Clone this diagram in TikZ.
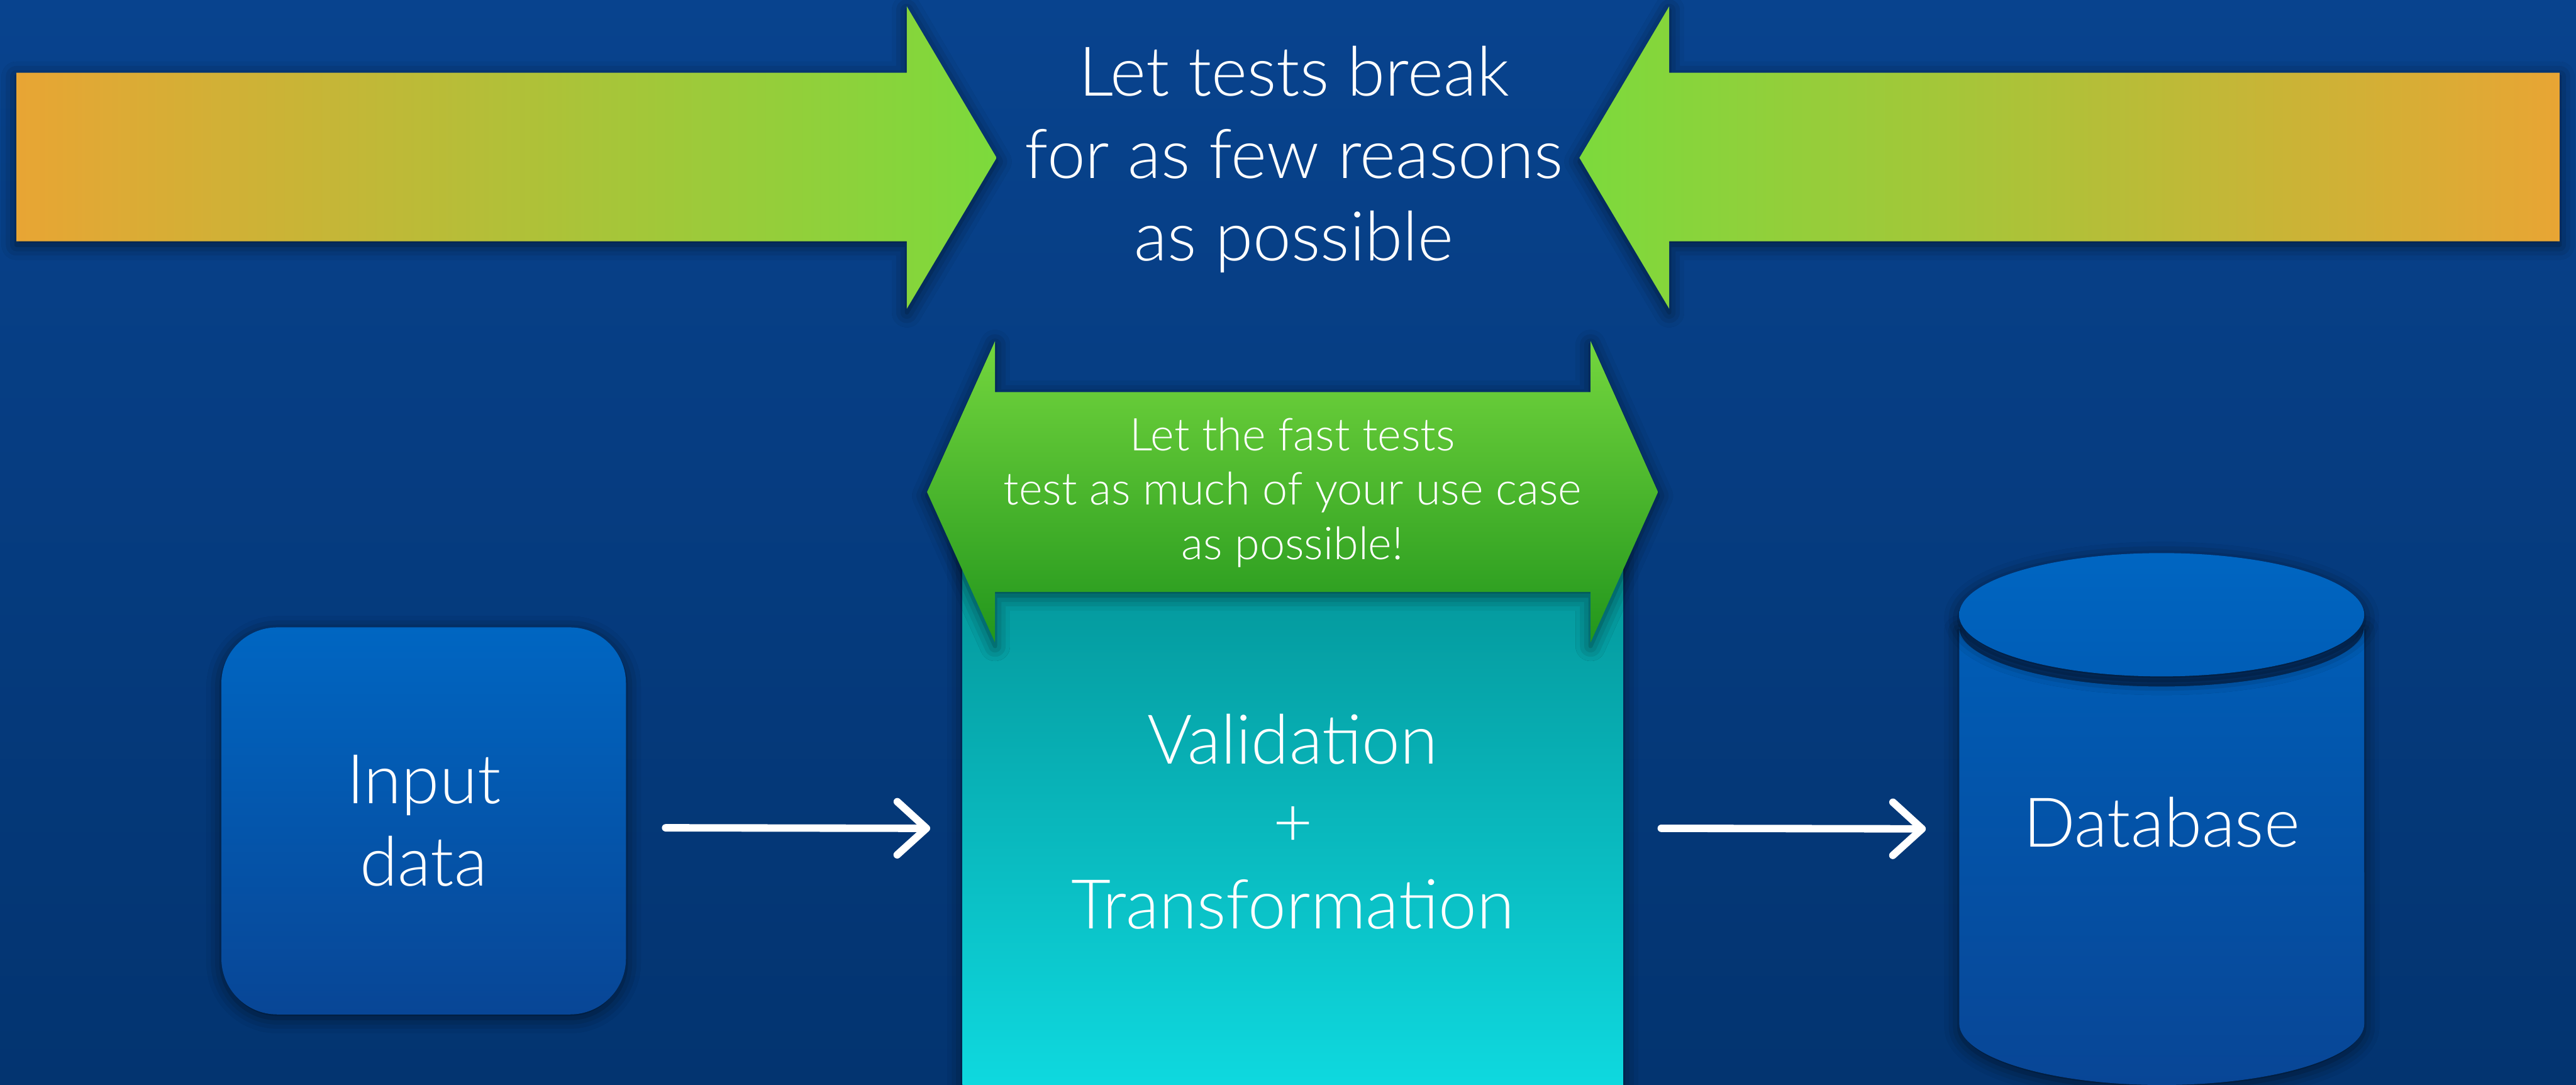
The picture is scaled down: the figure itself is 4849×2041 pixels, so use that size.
\documentclass[tikz,border=0pt]{standalone}
\usepackage{fontspec}
\setmainfont{Lato Light}
\usetikzlibrary{arrows.meta, shadows.blur}

\definecolor{bgtop}{RGB}{8,67,142}
\definecolor{bgbot}{RGB}{3,52,112}
\definecolor{orng}{RGB}{232,165,52}
\definecolor{lgreen}{RGB}{124,218,60}
\definecolor{gtop}{RGB}{116,214,62}
\definecolor{gbot}{RGB}{34,150,28}
\definecolor{tealtop}{RGB}{3,146,150}
\definecolor{tealbot}{RGB}{15,220,226}
\definecolor{bluetop}{RGB}{0,102,194}
\definecolor{bluemid}{RGB}{0,93,182}
\definecolor{bluebot}{RGB}{8,70,150}

\begin{document}
\begin{tikzpicture}[x=0.01cm, y=-0.01cm,
	soft shadow/.style={blur shadow={shadow xshift=0pt, shadow yshift=-2pt, shadow blur radius=8pt, shadow opacity=60}},
	big text/.style={text=white, align=center, font=\fontsize{36.7}{44.1}\selectfont},
	small text/.style={text=white, align=center, font=\fontsize{24.2}{29}\selectfont},
	chalk/.style={draw=white, line width=0.14cm, line cap=round, -{Straight Barb[length=0.55cm, width=1.0cm, round]}}]

	% backdrop
	\shade[top color=bgtop, bottom color=bgbot] (0,0) rectangle (4849,2041);
	\useasboundingbox (0,0) rectangle (4849,2041);

	% the two arrows pushing in from the sides
	\shade[soft shadow, left color=orng, right color=lgreen]
		(31,137) -- (1707,137) -- (1707,12) -- (1876,297) -- (1707,581) -- (1707,454) -- (31,454) -- cycle;
	\shade[soft shadow, left color=lgreen, right color=orng]
		(4818,137) -- (3142,137) -- (3142,12) -- (2973,297) -- (3142,581) -- (3142,454) -- (4818,454) -- cycle;
	\node[big text] (goal) at (2436,300) {Let tests break\\for as few reasons\\as possible};

	% pipeline
	\node[soft shadow, rounded corners=1.05cm, top color=bluetop, bottom color=bluebot,
		minimum width=7.61cm, minimum height=7.28cm, big text] (input) at (797.5,1545) {Input\\data};

	\node[soft shadow, top color=tealtop, bottom color=tealbot, inner sep=0pt,
		minimum width=12.43cm, minimum height=10.92cm, big text] (core) at (2433.5,1546) {Validation\\+\\Transformation};

	\shade[soft shadow, top color=gtop, bottom color=gbot]
		(1745,926) -- (1873,642) -- (1873,738) -- (2994,738) -- (2994,642) -- (3121,926)
		-- (2994,1209) -- (2994,1114) -- (1873,1114) -- (1873,1209) -- cycle;
	\node[small text] (fast) at (2433,927) {Let the fast tests\\test as much of your use case\\as possible!};

	% database cylinder
	\shade[soft shadow, top color=bluemid, bottom color=bluebot]
		(3688,1180) -- (3688,1926) arc[start angle=180, end angle=360, x radius=3.81cm, y radius=1.16cm]
		-- (4450,1180) arc[start angle=0, end angle=-180, x radius=3.81cm, y radius=1.12cm] -- cycle;
	\shade[soft shadow, top color=bluetop, bottom color=bluemid] (4069,1157) ellipse [x radius=3.81cm, y radius=1.16cm];
	\node[big text, minimum width=7.62cm] (db) at (4069,1547) {Database};

	\draw[chalk] ([shift={(74,13)}]input.east) -- ([shift={(-60,13)}]core.west);
	\draw[chalk] ([shift={(71,13)}]core.east) -- ([shift={(-62,13)}]db.west);
\end{tikzpicture}
\end{document}
